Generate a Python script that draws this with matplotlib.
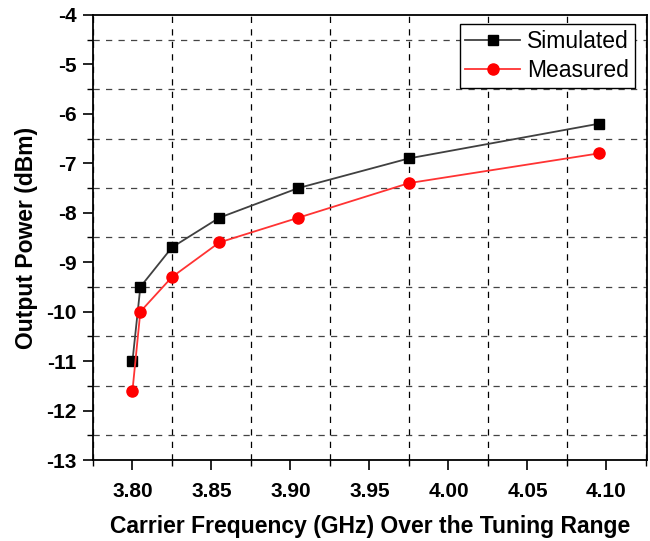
import matplotlib.pyplot as plt
from matplotlib.ticker import MultipleLocator

plt.rcParams["font.family"] = ["Liberation Sans", "DejaVu Sans"]

freq_ghz = [3.800, 3.805, 3.825, 3.855, 3.905, 3.975, 4.095]
simulated_dbm = [-11.0, -9.5, -8.7, -8.1, -7.5, -6.9, -6.2]
measured_dbm = [-11.6, -10.0, -9.3, -8.6, -8.1, -7.4, -6.8]

fig = plt.figure(figsize=(6.5, 5.41), dpi=100)
ax = fig.add_axes([0.143, 0.1497, 0.852, 0.8226])

ax.plot(freq_ghz, simulated_dbm, color="#404040", lw=1.3, marker="s",
        ms=7, mfc="black", mec="black", label="Simulated", zorder=3)
ax.plot(freq_ghz, measured_dbm, color="#ff3333", lw=1.3, marker="o",
        ms=8, mfc="red", mec="red", label="Measured", zorder=3)

ax.set_xlim(3.775, 4.1255)
ax.set_ylim(-13, -4)
ax.xaxis.set_major_locator(MultipleLocator(0.05))
ax.xaxis.set_minor_locator(MultipleLocator(0.025))
ax.yaxis.set_major_locator(MultipleLocator(1))
ax.yaxis.set_minor_locator(MultipleLocator(0.5))
ax.xaxis.set_major_formatter(plt.FuncFormatter(lambda v, p: f"{v:.2f}"))
ax.yaxis.set_major_formatter(plt.FuncFormatter(lambda v, p: f"{v:.0f}".replace("\u2212", "-")))

ax.grid(True, which="minor", axis="x", color="black", ls=(0, (5, 5)), lw=0.9)
ax.grid(True, which="minor", axis="y", color="#444444", ls=(0, (5, 5)), lw=0.9)

ax.tick_params(which="major", direction="out", length=7, width=1.2, labelsize=15, pad=5)
ax.tick_params(axis="x", which="major", pad=9)
ax.tick_params(which="minor", direction="out", length=4, width=1.0)
for lbl in ax.get_xticklabels() + ax.get_yticklabels():
    lbl.set_fontweight("bold")
for s in ax.spines.values():
    s.set_linewidth(1.3)

ax.set_xlabel("Carrier Frequency (GHz) Over the Tuning Range",
              fontsize=16.5, fontweight="bold", labelpad=10)
ax.set_ylabel("Output Power (dBm)", fontsize=16.5, fontweight="bold", labelpad=6)

leg = ax.legend(loc="upper right", bbox_to_anchor=(0.9785, 0.98), fontsize=16.5,
                fancybox=False, framealpha=1, edgecolor="black",
                handlelength=2.4, borderpad=0.25, labelspacing=0.3,
                handletextpad=0.3, borderaxespad=0)
leg.get_frame().set_linewidth(1.0)

fig.savefig("out.png", dpi=100)
